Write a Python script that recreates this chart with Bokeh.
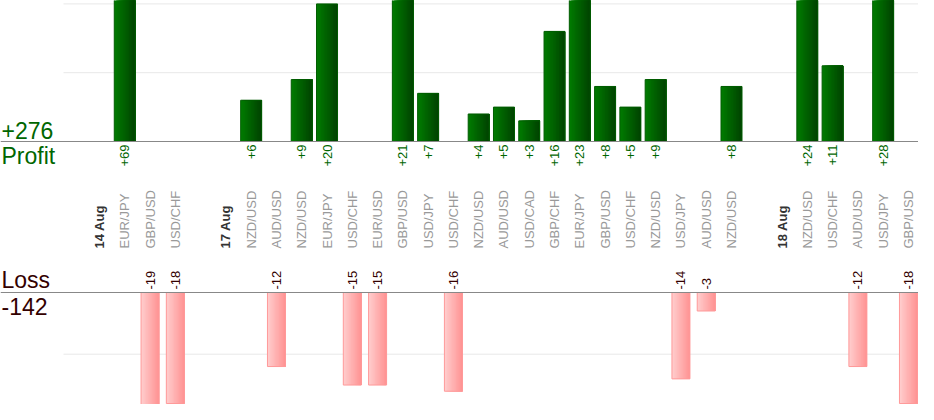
import numpy as np
from bokeh.plotting import figure
from bokeh.models import Range1d
from bokeh.embed import file_html
from bokeh.resources import INLINE
from bokeh.core.properties import value

# ---------------- data ----------------
day_labels = ["14 Aug", "17 Aug", "18 Aug"]
day_pairs = [
    ["EUR/JPY", "GBP/USD", "USD/CHF"],
    ["NZD/USD", "AUD/USD", "NZD/USD", "EUR/JPY", "USD/CHF", "EUR/USD", "GBP/USD",
     "USD/JPY", "USD/CHF", "NZD/USD", "AUD/USD", "USD/CAD", "GBP/CHF", "EUR/JPY",
     "GBP/USD", "USD/CHF", "NZD/USD", "USD/JPY", "AUD/USD", "NZD/USD"],
    ["NZD/USD", "USD/CHF", "AUD/USD", "USD/JPY", "GBP/USD"],
]
day_pnl = [
    [69, -19, -18],
    [6, -12, 9, 20, -15, -15, 21, 7, -16, 4, 5, 3, 16, 23, 8, 5, 9, -14, -3, 8],
    [24, 11, -12, 28, -18],
]
profit_grid = [10, 20]
loss_grid = [-10]

# ---------------- layout of slots ----------------
date_x, date_txt = [], []
pair_x, pair_txt, pnl = [], [], []
slot = 0
for lab, prs, vals in zip(day_labels, day_pairs, day_pnl):
    date_x.append(slot)
    date_txt.append(lab)
    slot += 1
    for pr, v in zip(prs, vals):
        pair_x.append(slot)
        pair_txt.append(pr)
        pnl.append(v)
        slot += 1
    slot += 1  # gap slot

pair_x = np.array(pair_x, dtype=float)
pnl = np.array(pnl, dtype=float)
pos = pnl > 0
neg = pnl < 0
px_w, px_v = pair_x[pos], pnl[pos]
nx_w, nx_v = pair_x[neg], pnl[neg]
total_profit = int(px_v.sum())
total_loss = int(nx_v.sum())

# ---------------- figure ----------------
W, H = 918, 404
SLOT = 25.28
x0 = -99 / SLOT
x1 = x0 + W / SLOT
SP = 6.88   # px per unit (profit)
SL = 6.17   # px per unit (loss)
base_p = 141
base_l = 292

p = figure(width=W, height=H, output_backend="svg", toolbar_location=None,
           x_range=Range1d(x0, x1),
           y_range=Range1d(-(H - base_p) / SP, base_p / SP),
           x_axis_location=None, y_axis_location=None,
           min_border=0, outline_line_color=None)
p.extra_y_ranges = {"loss": Range1d(-(H - base_l) / SL, base_l / SL)}
p.grid.visible = False
p.background_fill_color = "white"
p.border_fill_color = "white"

FONT = value("Liberation Sans")
grid_x0 = x0 + 63 / SLOT

# grid lines
p.segment(x0=[grid_x0] * len(profit_grid), y0=profit_grid, x1=[x1] * len(profit_grid),
          y1=profit_grid, line_color="#e8e8e8", line_width=1)
p.segment(x0=[grid_x0] * len(loss_grid), y0=loss_grid, x1=[x1] * len(loss_grid),
          y1=loss_grid, line_color="#e8e8e8", line_width=1, y_range_name="loss")


def hex2rgb(h):
    h = h.lstrip("#")
    return np.array([int(h[i:i + 2], 16) for i in (0, 2, 4)], dtype=float)


def gradient_bars(xc, top, bottom, width, c_left, c_right, edge, yname="default", n=14):
    cl, cr = hex2rgb(c_left), hex2rgb(c_right)
    L, R, T, B, C = [], [], [], [], []
    for k in range(n):
        t = k / (n - 1)
        col = cl + (cr - cl) * t
        hexc = "#%02x%02x%02x" % tuple(int(round(c)) for c in col)
        for xi, ti, bi in zip(xc, top, bottom):
            L.append(xi - width / 2 + k * width / n)
            R.append(xi + width / 2)
            T.append(ti)
            B.append(bi)
            C.append(hexc)
    p.quad(left=L, right=R, top=T, bottom=B, fill_color=C, line_color=None,
           y_range_name=yname)
    p.quad(left=xc - width / 2, right=xc + width / 2, top=top, bottom=bottom,
           fill_color=None, line_color=edge, line_width=1, y_range_name=yname)


gradient_bars(px_w, px_v, np.zeros_like(px_v), 21 / SLOT, "#007a00", "#004400", "#005c00")
gradient_bars(nx_w, np.zeros_like(nx_v), nx_v, 18 / SLOT, "#ffcccc", "#ff9494", "#ff9999",
              yname="loss")

# baselines
p.segment(x0=[x0], y0=[0], x1=[x1], y1=[0], line_color="#888888", line_width=1.2)
p.segment(x0=[x0], y0=[0], x1=[x1], y1=[0], line_color="#888888", line_width=1.2,
          y_range_name="loss")

# value labels
p.text(x=px_w, y=np.zeros_like(px_v), text=["+%d" % v for v in px_v],
       angle=np.pi / 2, text_align="right", text_baseline="middle",
       y_offset=3, text_font=FONT, text_font_size="13px", text_color="#006600")
p.text(x=nx_w, y=np.zeros_like(nx_v), text=["%d" % v for v in nx_v],
       angle=np.pi / 2, text_align="left", text_baseline="middle",
       y_offset=-3, text_font=FONT, text_font_size="13px", text_color="#330000",
       y_range_name="loss")

# category labels
p.text(x=pair_x, y=np.zeros_like(pair_x), text=pair_txt, angle=np.pi / 2,
       text_align="left", text_baseline="middle", y_offset=107,
       text_font=FONT, text_font_size="13px", text_color="#999999")
p.text(x=date_x, y=[0] * len(date_x), text=date_txt, angle=np.pi / 2,
       text_align="left", text_baseline="middle", y_offset=107,
       text_font=FONT, text_font_size="13px", text_font_style="bold",
       text_color="#333333")

# totals
p.text(x=[x0], y=[0], text=["+%d" % total_profit], text_align="left",
       text_baseline="alphabetic", x_offset=1, y_offset=-11, text_font=FONT,
       text_font_size="23px", text_color="#006600")
p.text(x=[x0], y=[0], text=["Profit"], text_align="left",
       text_baseline="alphabetic", x_offset=1, y_offset=14, text_font=FONT,
       text_font_size="23px", text_color="#006600")
p.text(x=[x0], y=[0], text=["Loss"], text_align="left",
       text_baseline="alphabetic", x_offset=1, y_offset=-13, text_font=FONT,
       text_font_size="23px", text_color="#330000", y_range_name="loss")
p.text(x=[x0], y=[0], text=["%d" % total_loss], text_align="left",
       text_baseline="alphabetic", x_offset=1, y_offset=14, text_font=FONT,
       text_font_size="23px", text_color="#330000", y_range_name="loss")

open("out.html", "w").write(file_html(p, INLINE))
